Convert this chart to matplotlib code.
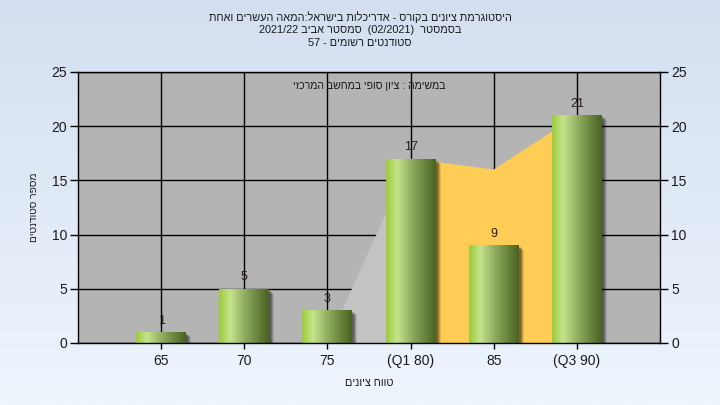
import re
import numpy as np
import matplotlib
matplotlib.use("Agg")
import matplotlib.pyplot as plt
from matplotlib.patches import Rectangle, Polygon
from matplotlib.colors import LinearSegmentedColormap
import matplotlib.patheffects as pe

plt.rcParams['font.family'] = ['Liberation Sans', 'DejaVu Sans']

# ---------------- data ----------------
categories = ["65", "70", "75", "(Q1 80)", "85", "(Q3 90)"]
counts = [1, 5, 3, 17, 9, 21]
gray_area_x = [0, 1, 2, 3]
gray_area_y = [0, 0, 0, 17]
orange_area_x = [3, 4, 5]
orange_area_y = [17, 16, 21]
y_ticks = [0, 5, 10, 15, 20, 25]

title_lines = [
    "היסטוגרמת ציונים בקורס - אדריכלות בישראל:המאה העשרים ואחת",
    "בסמסטר  (02/2021)  סמסטר אביב 2021/22",
    "סטודנטים רשומים - 57",
]
note_text = "במשימה : ציון סופי במחשב המרכזי"
x_label = "טווח ציונים"
y_label = "מספר סטודנטים"


def vis(s):
    """Very small bidi: convert logical RTL Hebrew string to visual order."""
    tokens = re.findall(r'[A-Za-z0-9/.]+|.', s)
    out = []
    for t in reversed(tokens):
        if len(t) == 1:
            t = {'(': ')', ')': '('}.get(t, t)
        out.append(t)
    return ''.join(out)


W, H = 720, 405
fig = plt.figure(figsize=(W / 100, H / 100), dpi=100)

# background gradient
bg = fig.add_axes([0, 0, 1, 1], zorder=-10)
grad = np.linspace(0, 1, 256).reshape(-1, 1)
bg_cmap = LinearSegmentedColormap.from_list("bg", ["#d3dff0", "#eef5fd"])
bg.imshow(grad, aspect='auto', cmap=bg_cmap, extent=[0, 1, 0, 1], origin='upper')
bg.axis('off')

left, right, top, bottom = 78, 660, 72, 343
ax = fig.add_axes([left / W, 1 - bottom / H, (right - left) / W, (bottom - top) / H])
ax.set_facecolor("#b4b4b4")
x = np.arange(len(categories))

# grid
for xi in x:
    ax.axvline(xi, color='black', lw=1, zorder=1)
for yt in y_ticks:
    ax.axhline(yt, color='black', lw=1, zorder=1)

# areas
gpoly = list(zip(gray_area_x, gray_area_y)) + [(gray_area_x[-1], 0), (gray_area_x[0], 0)]
ax.add_patch(Polygon(gpoly, closed=True, facecolor="#c3c3c3", edgecolor='none', zorder=2))
opoly = list(zip(orange_area_x, orange_area_y)) + [(orange_area_x[-1], 0), (orange_area_x[0], 0)]
ax.add_patch(Polygon(opoly, closed=True, facecolor="#ffcc55", edgecolor='none', zorder=2))

# bars with gradient and shadow
bar_cmap = LinearSegmentedColormap.from_list(
    "bar", [(0.0, "#9bcb3a"), (0.22, "#c6e48c"), (0.55, "#8aa75a"), (1.0, "#4a6222")])
bw = 0.6
gimg = np.linspace(0, 1, 200).reshape(1, -1)
for xi, c in zip(x, counts):
    for off, a in [(5, 0.10), (4, 0.15), (3, 0.2), (2, 0.2)]:
        r = Rectangle((xi - bw / 2, 0), bw, c, facecolor='none', edgecolor='none', zorder=3)
        ax.add_patch(r)
        r.set_path_effects([pe.SimplePatchShadow(offset=(off * 0.72, -off * 0.72),
                                                 shadow_rgbFace='black', alpha=a)])
    rect = Rectangle((xi - bw / 2, 0), bw, c, facecolor='none', edgecolor='none', zorder=4)
    ax.add_patch(rect)
    im = ax.imshow(gimg, aspect='auto', cmap=bar_cmap,
                   extent=[xi - bw / 2, xi + bw / 2, 0, c], zorder=4)
    im.set_clip_path(rect)
    ax.annotate(str(c), (xi, c), xytext=(0, 4), textcoords='offset points',
                ha='center', va='bottom', fontsize=9, color='#2a1a1a', zorder=6)

ax.set_xlim(-1, len(categories))
ax.set_ylim(0, 25)

ax.set_xticks(x)
ax.set_xticklabels(categories, fontsize=10, color='#1a1a1a')
ax.set_yticks(y_ticks)
ax.set_yticklabels([str(v) for v in y_ticks], fontsize=10, color='#1a1a1a')
ax.tick_params(axis='x', length=4, width=1, color='black', pad=4)
ax.tick_params(axis='y', length=6, width=1, color='black', pad=2)
for s in ax.spines.values():
    s.set_color('black')
    s.set_linewidth(1)
    s.set_zorder(7)

ax2 = ax.twinx()
ax2.set_ylim(0, 25)
ax2.set_yticks(y_ticks)
ax2.set_yticklabels([str(v) for v in y_ticks], fontsize=10, color='#1a1a1a')
ax2.tick_params(axis='y', length=6, width=1, color='black', pad=2)
for s in ax2.spines.values():
    s.set_visible(False)

ax.set_xlabel(vis(x_label), fontsize=7.8, color='#1a1a1a', labelpad=7)
ax.set_ylabel(vis(y_label), fontsize=7.3, color='#1a1a1a', labelpad=9)

ax.text((369 - left) / (right - left), 1 - (86 - top) / (bottom - top), vis(note_text),
        transform=ax.transAxes, ha='center', va='center', fontsize=7.6,
        color='#1a1a1a', zorder=8)

for i, line in enumerate(title_lines):
    fig.text(360 / W, 1 - (17 + 13 * i) / H, vis(line), ha='center', va='center',
             fontsize=7.8, color='#1a1a1a')

fig.savefig("out.png", dpi=100)
